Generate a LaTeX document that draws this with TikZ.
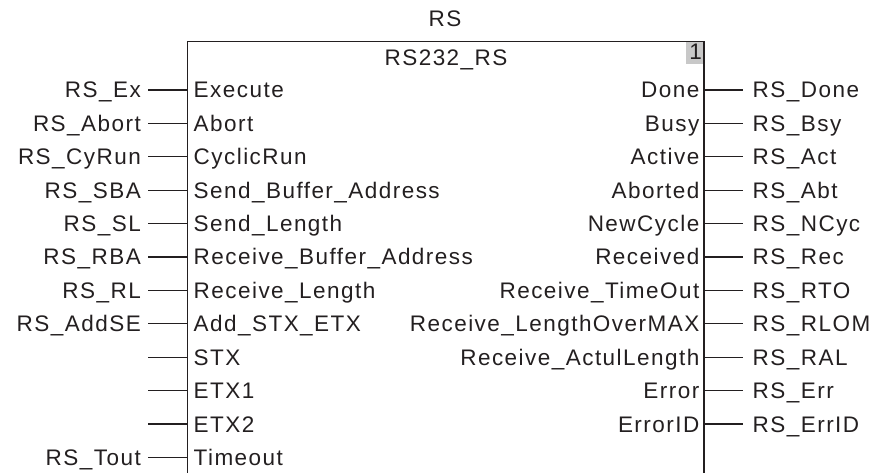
\documentclass[tikz,border=0pt]{standalone}
\usepackage{fontspec}
\setmainfont{Liberation Sans}[LetterSpace=6.5]
\definecolor{txt}{HTML}{231F20}
\definecolor{numbg}{HTML}{C8C8C8}
\begin{document}
\begin{tikzpicture}[x=1pt,y=-1pt,
  font=\fontsize{22.5}{24}\selectfont,
  lbl/.style={inner sep=0pt,text=txt},
  wire/.style={line width=1.3pt,draw=txt},
  boxline/.style={line width=1.6pt,draw=txt}]
\useasboundingbox (0,0) rectangle (879,473);
% block outline
\coordinate (bl) at (187.5,473);
\coordinate (tl) at (187.5,41.5);
\coordinate (tr) at (704,41.5);
\coordinate (br) at (704,473);
\fill[numbg] (686,41.5) rectangle (704,64.5);
\draw[boxline] (bl) -- (tl) -- (tr) -- (br);
\node[lbl,anchor=base east] (num) at (702,60) {1};
\node[lbl,anchor=base] (inst) at (445,27) {RS};
\node[lbl,anchor=base] (fbname) at (446,65.5) {RS232\_RS};
% inputs
\foreach \p/\v [count=\i from 0] in {Execute/RS\_Ex, Abort/RS\_Abort, CyclicRun/RS\_CyRun,
  Send\_Buffer\_Address/RS\_SBA, Send\_Length/RS\_SL, Receive\_Buffer\_Address/RS\_RBA,
  Receive\_Length/RS\_RL, Add\_STX\_ETX/RS\_AddSE, STX/, ETX1/, ETX2/, Timeout/RS\_Tout}{
  \pgfmathsetmacro{\yy}{90+33.4*\i}
  \node[lbl,anchor=base west] (in\i) at (193.5,\yy+8) {\p};
  \node[lbl,anchor=base east] (iv\i) at (141,\yy+8) {\v};
  \coordinate (ia\i) at (148,\yy);
  \coordinate (ib\i) at (187.5,\yy);
  \draw[wire] (ia\i) -- (ib\i);
}
% outputs
\foreach \p/\v [count=\i from 0] in {Done/RS\_Done, Busy/RS\_Bsy, Active/RS\_Act,
  Aborted/RS\_Abt, NewCycle/RS\_NCyc, Received/RS\_Rec, Receive\_TimeOut/RS\_RTO,
  Receive\_LengthOverMAX/RS\_RLOM, Receive\_ActulLength/RS\_RAL, Error/RS\_Err, ErrorID/RS\_ErrID}{
  \pgfmathsetmacro{\yy}{90+33.4*\i}
  \node[lbl,anchor=base east] (out\i) at (699.5,\yy+8) {\p};
  \node[lbl,anchor=base west] (ov\i) at (752.5,\yy+8) {\v};
  \coordinate (oa\i) at (704,\yy);
  \coordinate (ob\i) at (743,\yy);
  \draw[wire] (oa\i) -- (ob\i);
}
\end{tikzpicture}
\end{document}
